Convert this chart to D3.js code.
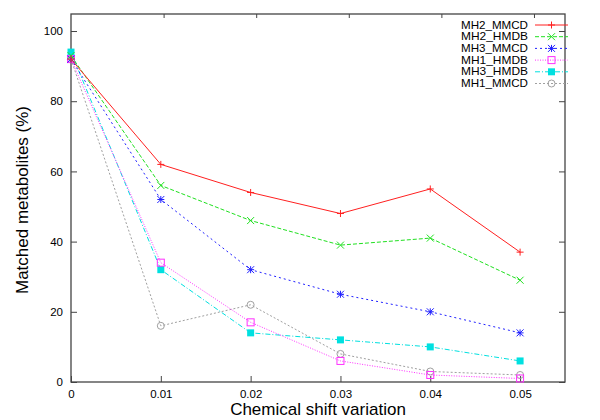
<!DOCTYPE html>
<html><head><meta charset="utf-8">
<script src="https://cdn.jsdelivr.net/npm/d3@7"></script>
<style>body{margin:0;background:#fff}svg{display:block;font-family:"Liberation Sans",Arial,sans-serif}</style>
</head><body><svg id="c" width="600" height="420"></svg>
<script>
const xValues = [0, 0.01, 0.02, 0.03, 0.04, 0.05];
const seriesNames = ["MH2_MMCD", "MH2_HMDB", "MH3_MMCD", "MH1_HMDB", "MH3_HMDB", "MH1_MMCD"];
const mh2Mmcd = [92, 62, 54, 48, 55, 37];
const mh2Hmdb = [93, 56, 46, 39, 41, 29];
const mh3Mmcd = [92, 52, 32, 25, 20, 14];
const mh1Hmdb = [92, 34, 17, 6, 2, 1];
const mh3Hmdb = [94, 32, 14, 12, 10, 6];
const mh1Mmcd = [92, 16, 22, 8, 3, 2];
const xTickLabels = ["0", "0.01", "0.02", "0.03", "0.04", "0.05"];
const yTickLabels = ["0", "20", "40", "60", "80", "100"];
const x2Ticks = [1, 2, 3, 4, 5];

const colors = ["#ff2020", "#20e020", "#2020ff", "#ff30ff", "#00e0e0", "#a0a0a0"];
const dashes = [null, "4,2", "2,3", "1,1.5", "5,2,1,2", "2,2"];
const markers = ["plus", "cross", "star", "osq", "fsq", "circ"];
const allValues = [mh2Mmcd, mh2Hmdb, mh3Mmcd, mh1Hmdb, mh3Hmdb, mh1Mmcd];

const svg = d3.select("#c");
const L = 71, R = 565, T = 14, B = 382;
const x = d3.scaleLinear().domain([0, 0.055]).range([L, R]);
const y = d3.scaleLinear().domain([0, 104.85]).range([B, T]);
const x2 = d3.scaleLinear().domain([0, 5.335]).range([L, R]);
const frame = "#444";

const gx = svg.append("g").attr("transform", `translate(0,${B})`)
  .call(d3.axisBottom(x).tickValues(xValues).tickFormat((d, i) => xTickLabels[i]).tickSizeInner(-6).tickSizeOuter(0).tickPadding(8));
const gy = svg.append("g").attr("transform", `translate(${L},0)`)
  .call(d3.axisLeft(y).tickValues(yTickLabels.map(Number)).tickFormat((d, i) => yTickLabels[i]).tickSizeInner(-6).tickSizeOuter(0).tickPadding(8));
const gy2 = svg.append("g").attr("transform", `translate(${R},0)`)
  .call(d3.axisRight(y).tickValues(yTickLabels.map(Number)).tickFormat("").tickSizeInner(-6).tickSizeOuter(0));
const gx2 = svg.append("g").attr("transform", `translate(0,${T})`)
  .call(d3.axisTop(x2).tickValues(x2Ticks).tickFormat("").tickSizeInner(-4).tickSizeOuter(0));
[gx, gy, gy2, gx2].forEach(g => {
  g.select(".domain").remove();
  g.selectAll("line").attr("stroke", frame);
  g.selectAll("text").attr("font-size", 11.5).attr("fill", "#000").attr("font-family", "Liberation Sans, Arial, sans-serif");
});
svg.append("rect").attr("x", L).attr("y", T).attr("width", R - L).attr("height", B - T)
  .attr("fill", "none").attr("stroke", frame).attr("stroke-width", 1.3);

svg.append("text").attr("x", (L + R) / 2).attr("y", 415).attr("text-anchor", "middle")
  .attr("font-size", 17).text("Chemical shift variation");
svg.append("text").attr("transform", `translate(28,${(T + B) / 2 + 2}) rotate(-90)`).attr("text-anchor", "middle")
  .attr("font-size", 17).text("Matched metabolites (%)");

function drawMarker(g, type, cx, cy, color) {
  const s = 3.5;
  if (type === "plus" || type === "star") {
    g.append("path").attr("d", `M${cx - s},${cy}H${cx + s}M${cx},${cy - s}V${cy + s}`).attr("stroke", color).attr("fill", "none");
  }
  if (type === "cross" || type === "star") {
    g.append("path").attr("d", `M${cx - s},${cy - s}L${cx + s},${cy + s}M${cx - s},${cy + s}L${cx + s},${cy - s}`).attr("stroke", color).attr("fill", "none");
  }
  if (type === "osq") {
    g.append("rect").attr("x", cx - s).attr("y", cy - s).attr("width", 2 * s).attr("height", 2 * s).attr("fill", "none").attr("stroke", color);
  }
  if (type === "fsq") {
    g.append("rect").attr("x", cx - s).attr("y", cy - s).attr("width", 2 * s).attr("height", 2 * s).attr("fill", color);
  }
  if (type === "circ") {
    g.append("circle").attr("cx", cx).attr("cy", cy).attr("r", s).attr("fill", "none").attr("stroke", color);
  }
}

const line = d3.line().x((d, i) => x(xValues[i])).y(d => y(d));
for (let k = allValues.length - 1; k >= 0; k--) {
  const g = svg.append("g");
  g.append("path").attr("d", line(allValues[k])).attr("fill", "none").attr("stroke", colors[k])
    .attr("stroke-width", 1).attr("stroke-dasharray", dashes[k]);
  allValues[k].forEach((v, i) => drawMarker(g, markers[k], x(xValues[i]), y(v), colors[k]));
}

seriesNames.forEach((name, k) => {
  const ly = 25 + k * 11.7;
  const g = svg.append("g");
  g.append("text").attr("x", 528).attr("y", ly).attr("dy", "0.35em").attr("text-anchor", "end")
    .attr("font-size", 10.5).attr("textLength", 67).attr("lengthAdjust", "spacingAndGlyphs").text(name);
  g.append("line").attr("x1", 535).attr("x2", 568).attr("y1", ly).attr("y2", ly)
    .attr("stroke", colors[k]).attr("stroke-dasharray", dashes[k]);
  drawMarker(g, markers[k], 551.5, ly, colors[k]);
});
</script></body></html>
